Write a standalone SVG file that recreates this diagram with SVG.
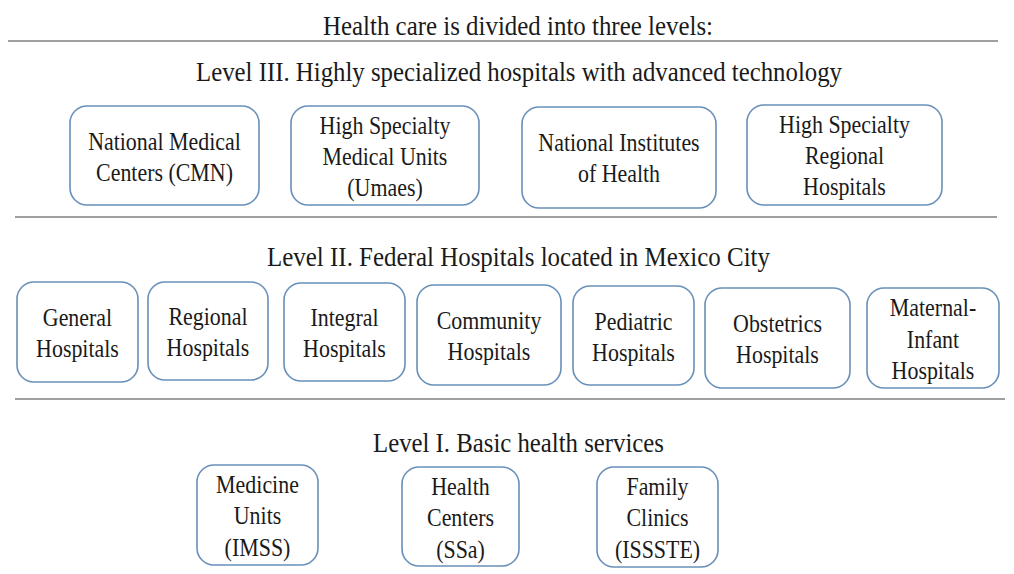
<svg xmlns="http://www.w3.org/2000/svg" width="1014" height="574" viewBox="0 0 1014 574">
<style>
.bg{fill:#ffffff}
.box{fill:#ffffff;stroke:#6890ba;stroke-width:1.6}
.sep{stroke:#7f7f7f;stroke-width:1.5;fill:none}
.h{font-family:"Liberation Serif","Times New Roman",serif;font-size:27px;fill:#1a1a1a;text-anchor:middle}
.t{font-family:"Liberation Serif","Times New Roman",serif;font-size:25.5px;fill:#1a1a1a;text-anchor:middle}
</style>
<rect class="bg" x="0" y="0" width="1014" height="574"/>
<g id="separators">
<line class="sep" x1="8" y1="41" x2="998" y2="41"/>
<line class="sep" x1="15" y1="217" x2="997" y2="217"/>
<line class="sep" x1="15" y1="399" x2="1005" y2="399"/>
</g>
<g id="headings">
<text class="h" x="518" y="35" textLength="390" lengthAdjust="spacingAndGlyphs">Health care is divided into three levels:</text>
<text class="h" x="519" y="81" textLength="646" lengthAdjust="spacingAndGlyphs">Level III. Highly specialized hospitals with advanced technology</text>
<text class="h" x="518.5" y="266" textLength="503" lengthAdjust="spacingAndGlyphs">Level II. Federal Hospitals located in Mexico City</text>
<text class="h" x="518.5" y="452" textLength="291" lengthAdjust="spacingAndGlyphs">Level I. Basic health services</text>
</g>
<g id="connectors"></g>
<!-- Level III -->
<g id="n-cmn">
<rect class="box" x="70" y="106" width="189" height="99" rx="17"/>
<g transform="translate(164.5,0) scale(0.86,1)"><text class="t" x="0" y="150">National Medical</text><text class="t" x="0" y="181">Centers (CMN)</text></g>
</g>
<g id="n-umaes">
<rect class="box" x="291" y="106" width="188" height="99" rx="17"/>
<g transform="translate(385,0) scale(0.86,1)"><text class="t" x="0" y="134">High Specialty</text><text class="t" x="0" y="165">Medical Units</text><text class="t" x="0" y="196">(Umaes)</text></g>
</g>
<g id="n-nih">
<rect class="box" x="522" y="107" width="194" height="101" rx="17"/>
<g transform="translate(619,0) scale(0.86,1)"><text class="t" x="0" y="151">National Institutes</text><text class="t" x="0" y="182">of Health</text></g>
</g>
<g id="n-hsrh">
<rect class="box" x="747" y="105" width="195" height="100" rx="17"/>
<g transform="translate(844.5,0) scale(0.86,1)"><text class="t" x="0" y="133">High Specialty</text><text class="t" x="0" y="164">Regional</text><text class="t" x="0" y="195">Hospitals</text></g>
</g>
<!-- Level II -->
<g id="n-general">
<rect class="box" x="17" y="282" width="121" height="100" rx="17"/>
<g transform="translate(77.5,0) scale(0.86,1)"><text class="t" x="0" y="326">General</text><text class="t" x="0" y="357">Hospitals</text></g>
</g>
<g id="n-regional">
<rect class="box" x="148" y="282" width="120" height="98" rx="17"/>
<g transform="translate(208,0) scale(0.86,1)"><text class="t" x="0" y="325">Regional</text><text class="t" x="0" y="356">Hospitals</text></g>
</g>
<g id="n-integral">
<rect class="box" x="284" y="283" width="121" height="98" rx="17"/>
<g transform="translate(344.5,0) scale(0.86,1)"><text class="t" x="0" y="326">Integral</text><text class="t" x="0" y="357">Hospitals</text></g>
</g>
<g id="n-community">
<rect class="box" x="417" y="285" width="144" height="100" rx="17"/>
<g transform="translate(489,0) scale(0.86,1)"><text class="t" x="0" y="329">Community</text><text class="t" x="0" y="360">Hospitals</text></g>
</g>
<g id="n-pediatric">
<rect class="box" x="573" y="286" width="121" height="99" rx="17"/>
<g transform="translate(633.5,0) scale(0.86,1)"><text class="t" x="0" y="330">Pediatric</text><text class="t" x="0" y="361">Hospitals</text></g>
</g>
<g id="n-obstetrics">
<rect class="box" x="705" y="288" width="145" height="100" rx="17"/>
<g transform="translate(777.5,0) scale(0.86,1)"><text class="t" x="0" y="332">Obstetrics</text><text class="t" x="0" y="363">Hospitals</text></g>
</g>
<g id="n-maternal">
<rect class="box" x="867" y="288" width="132" height="100" rx="17"/>
<g transform="translate(933,0) scale(0.86,1)"><text class="t" x="0" y="316">Maternal-</text><text class="t" x="0" y="348">Infant</text><text class="t" x="0" y="379">Hospitals</text></g>
</g>
<!-- Level I -->
<g id="n-imss">
<rect class="box" x="197" y="465" width="121" height="100" rx="17"/>
<g transform="translate(257.5,0) scale(0.86,1)"><text class="t" x="0" y="493">Medicine</text><text class="t" x="0" y="524">Units</text><text class="t" x="0" y="556">(IMSS)</text></g>
</g>
<g id="n-ssa">
<rect class="box" x="402" y="467" width="117" height="99" rx="17"/>
<g transform="translate(460.5,0) scale(0.86,1)"><text class="t" x="0" y="495">Health</text><text class="t" x="0" y="526">Centers</text><text class="t" x="0" y="558">(SSa)</text></g>
</g>
<g id="n-issste">
<rect class="box" x="597" y="467" width="121" height="100" rx="17"/>
<g transform="translate(657.5,0) scale(0.86,1)"><text class="t" x="0" y="495">Family</text><text class="t" x="0" y="526">Clinics</text><text class="t" x="0" y="558">(ISSSTE)</text></g>
</g>
</svg>
